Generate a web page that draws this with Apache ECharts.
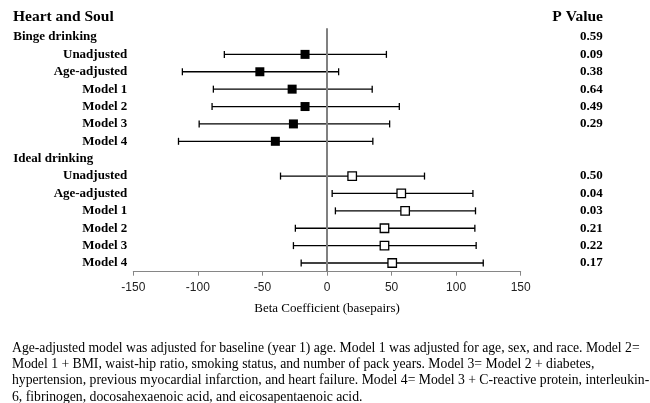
<!DOCTYPE html>
<html>
<head>
<meta charset="utf-8">
<script src="https://cdn.jsdelivr.net/npm/echarts@6/dist/echarts.min.js"></script>
<style>html,body{margin:0;padding:0;background:#fff;}#c{width:650px;height:403px;}</style>
</head>
<body>
<div id="c"></div>
<script>
const rowLabels = ['Binge drinking','Unadjusted','Age-adjusted','Model 1','Model 2','Model 3','Model 4',
                   'Ideal drinking','Unadjusted','Age-adjusted','Model 1','Model 2','Model 3','Model 4'];
const headerRows = [0, 7];
const pValueLabels = ['0.59','0.09','0.38','0.64','0.49','0.29','','','0.50','0.04','0.03','0.21','0.22','0.17'];
const bingeRows = [1,2,3,4,5,6];
const bingeBeta  = [-17, -52, -27, -17, -26, -40];
const bingeLower = [-79.5, -112, -88, -89, -99, -115];
const bingeUpper = [46, 9, 35, 56, 48.5, 35.5];
const idealRows = [8,9,10,11,12,13];
const idealBeta  = [19.5, 57.5, 60.5, 44.5, 44.5, 50.5];
const idealLower = [-36, 4, 6.5, -24.5, -26, -20];
const idealUpper = [75.5, 113, 115, 114.5, 115.5, 121];
const xTicks = {min: -150, max: 150, interval: 50};
const footnote = [
  'Age-adjusted model was adjusted for baseline (year 1) age. Model 1 was adjusted for age, sex, and race. Model 2=',
  'Model 1 + BMI, waist-hip ratio, smoking status, and number of pack years. Model 3= Model 2 + diabetes,',
  'hypertension, previous myocardial infarction, and heart failure. Model 4= Model 3 + C-reactive protein, interleukin-',
  '6, fibrinogen, docosahexaenoic acid, and eicosapentaenoic acid.'
];

const serif = '"Liberation Serif", "Times New Roman", serif';
const catKeys = rowLabels.map((_, i) => String(i));

function errData(rows, lo, hi) { return rows.map((r, i) => [lo[i], hi[i], r]); }
function ptData(rows, b) { return rows.map((r, i) => [b[i], r]); }

function renderErr(params, api) {
  const y = api.value(2);
  const p1 = api.coord([api.value(0), y]);
  const p2 = api.coord([api.value(1), y]);
  const h = 3.5;
  const st = {stroke: '#000', lineWidth: 1.3};
  return {type: 'group', children: [
    {type: 'line', shape: {x1: p1[0], y1: p1[1], x2: p2[0], y2: p2[1]}, style: st},
    {type: 'line', shape: {x1: p1[0], y1: p1[1] - h, x2: p1[0], y2: p1[1] + h}, style: st},
    {type: 'line', shape: {x1: p2[0], y1: p2[1] - h, x2: p2[0], y2: p2[1] + h}, style: st}
  ]};
}

const chart = echarts.init(document.getElementById('c'));
chart.setOption({
  animation: false,
  backgroundColor: '#fff',
  grid: {left: 133.3, right: 129.3, top: 28.3, bottom: 131.3, containLabel: false},
  xAxis: {
    type: 'value', min: xTicks.min, max: xTicks.max, interval: xTicks.interval,
    splitLine: {show: false},
    axisLine: {show: true, lineStyle: {color: '#868686', width: 1}},
    axisTick: {show: true, length: 4, lineStyle: {color: '#868686'}},
    axisLabel: {color: '#222', fontSize: 12, fontFamily: '"Liberation Sans", Arial, sans-serif', margin: 10},
    name: 'Beta Coefficient (basepairs)', nameLocation: 'middle', nameGap: 30,
    nameTextStyle: {color: '#000', fontSize: 13, fontFamily: serif}
  },
  yAxis: [{
    type: 'category', inverse: true, data: catKeys,
    axisLine: {show: false}, axisTick: {show: false}, splitLine: {show: false},
    axisLabel: {
      interval: 0, margin: 6, color: '#000', fontSize: 13, fontWeight: 'bold', fontFamily: serif,
      formatter: (v, i) => headerRows.includes(i) ? '{h|' + rowLabels[i] + '}' : rowLabels[i],
      rich: {h: {width: 114, align: 'left', color: '#000', fontSize: 13, fontWeight: 'bold', fontFamily: serif}}
    }
  }, {
    type: 'category', inverse: true, data: catKeys, position: 'right',
    axisLine: {show: false}, axisTick: {show: false}, splitLine: {show: false},
    axisLabel: {
      interval: 0, margin: 82, align: 'right', color: '#000', fontSize: 13, fontWeight: 'bold', fontFamily: serif,
      formatter: (v, i) => pValueLabels[i]
    }
  }],
  series: [
    {
      type: 'scatter', data: [], z: 1,
      markLine: {silent: true, symbol: 'none', label: {show: false},
        lineStyle: {color: '#808080', width: 2, type: 'solid'}, data: [{xAxis: 0}]}
    },
    {type: 'custom', z: 3, renderItem: renderErr, encode: {x: [0, 1], y: 2}, data: errData(bingeRows, bingeLower, bingeUpper)},
    {type: 'custom', z: 3, renderItem: renderErr, encode: {x: [0, 1], y: 2}, data: errData(idealRows, idealLower, idealUpper)},
    {type: 'scatter', z: 4, symbol: 'rect', symbolSize: 9, data: ptData(bingeRows, bingeBeta),
      itemStyle: {color: '#000', opacity: 1}},
    {type: 'scatter', z: 4, symbol: 'rect', symbolSize: 8.5, data: ptData(idealRows, idealBeta),
      itemStyle: {color: '#fff', borderColor: '#000', borderWidth: 1.3, opacity: 1}}
  ],
  graphic: [
    {type: 'text', x: 13, y: 17, style: {text: 'Heart and Soul', fill: '#000', font: 'bold 15.5px ' + serif, verticalAlign: 'middle', align: 'left'}},
    {type: 'text', x: 603, y: 17, style: {text: 'P Value', fill: '#000', font: 'bold 15.5px ' + serif, verticalAlign: 'middle', align: 'right'}},
    {type: 'text', x: 12, y: 340, style: {text: footnote.join('\n'), fill: '#000', font: '13.7px ' + serif, lineHeight: 16.3, verticalAlign: 'top', align: 'left'}}
  ]
});
</script>
</body>
</html>
